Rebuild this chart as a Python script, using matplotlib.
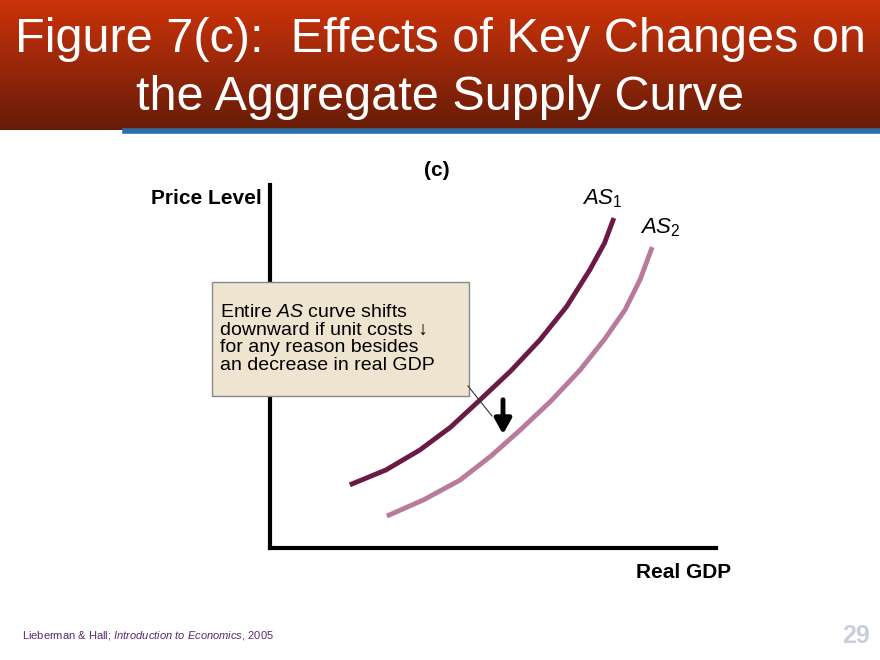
import numpy as np
import matplotlib.pyplot as plt

plt.rcParams['font.family'] = ['Liberation Sans', 'DejaVu Sans']
plt.rcParams['mathtext.fontset'] = 'custom'
plt.rcParams['mathtext.rm'] = 'Liberation Sans'
plt.rcParams['mathtext.it'] = 'Liberation Sans:italic'

title_lines = ["Figure 7(c):  Effects of Key Changes on", "the Aggregate Supply Curve"]
as1_x = [1.79, 2.6, 3.36, 4.05, 4.71, 5.4, 6.05, 6.65, 7.17, 7.5, 7.71]
as1_y = [1.74, 2.15, 2.70, 3.33, 4.08, 4.88, 5.73, 6.65, 7.66, 8.4, 9.09]
as2_x = [2.62, 3.45, 4.26, 4.95, 5.61, 6.3, 6.95, 7.5, 7.96, 8.3, 8.57]
as2_y = [0.88, 1.33, 1.87, 2.53, 3.25, 4.05, 4.90, 5.75, 6.56, 7.4, 8.29]

W, H = 880, 660
fig = plt.figure(figsize=(8.8, 6.6), dpi=100)

# background / title band
bg = fig.add_axes([0, 0, 1, 1])
bg.set_xlim(0, W)
bg.set_ylim(H, 0)
bg.axis('off')
grad = np.linspace(0, 1, 100).reshape(-1, 1)
top = np.array([0.80, 0.20, 0.04])
bot = np.array([0.40, 0.11, 0.03])
img = top + (bot - top) * grad[..., None]
bg.imshow(img, extent=[0, W, 130, 0], aspect='auto')
bg.plot([125, W], [131, 131], color='#2a6ea6', lw=4)
bg.text(440, 40, title_lines[0], color='white', fontsize=35, ha='center', va='center')
bg.text(440, 97, title_lines[1], color='white', fontsize=35, ha='center', va='center')
bg.text(22, 636, "Lieberman & Hall; $\\mathit{Introduction\\ to\\ Economics}$, 2005",
        fontsize=8, color='#5a2a6a', va='center')
bg.text(870, 636, "29", fontsize=18, fontweight='bold', color='#c8cfdc', ha='right', va='center')
bg.text(437, 170, "(c)", fontsize=15, fontweight='bold', ha='center', va='center')
bg.text(262, 198, "Price Level", fontsize=15, fontweight='bold', ha='right', va='center')
bg.text(731, 573, "Real GDP", fontsize=15, fontweight='bold', ha='right', va='center')

# main chart axes (px 270..716, 185..548)
ax = fig.add_axes([270 / W, 1 - 548 / H, 446 / W, 363 / H])
ax.set_xlim(0, 10)
ax.set_ylim(0, 10)
ax.patch.set_alpha(0)
for s in ['top', 'right']:
    ax.spines[s].set_visible(False)
ax.spines['left'].set_linewidth(3)
ax.spines['bottom'].set_linewidth(3)
ax.set_xticks([])
ax.set_yticks([])

ax.plot(as1_x, as1_y, color='#6b1a45', lw=3.5, solid_capstyle='butt')
ax.plot(as2_x, as2_y, color='#b97b9c', lw=3.5, solid_capstyle='butt')
ax.text(7.45, 9.3, "$\\mathit{AS}_{\\mathit{1}}$", fontsize=16, ha='center', va='bottom')
ax.text(8.75, 8.5, "$\\mathit{AS}_{2}$", fontsize=16, ha='center', va='bottom')

# overlay for annotation box
ov = fig.add_axes([0, 0, 1, 1])
ov.set_xlim(0, W)
ov.set_ylim(H, 0)
ov.axis('off')
ov.add_patch(plt.Rectangle((212, 282), 257, 114, facecolor='#efe4d0', edgecolor='#888888', lw=1))
ov.text(220, 339, "Entire $\\mathit{AS}$ curve shifts\ndownward if unit costs \u2193\nfor any reason besides\nan decrease in real GDP",
        fontsize=14, va='center', ha='left', linespacing=1.05)
ov.plot([468, 492], [386, 416], color='#333333', lw=0.8)
ov.annotate("", xy=(503, 437), xytext=(503, 397),
            arrowprops=dict(arrowstyle='-|>,head_width=0.5,head_length=0.9', color='black', lw=3.5))

fig.savefig('out.png', dpi=100)
